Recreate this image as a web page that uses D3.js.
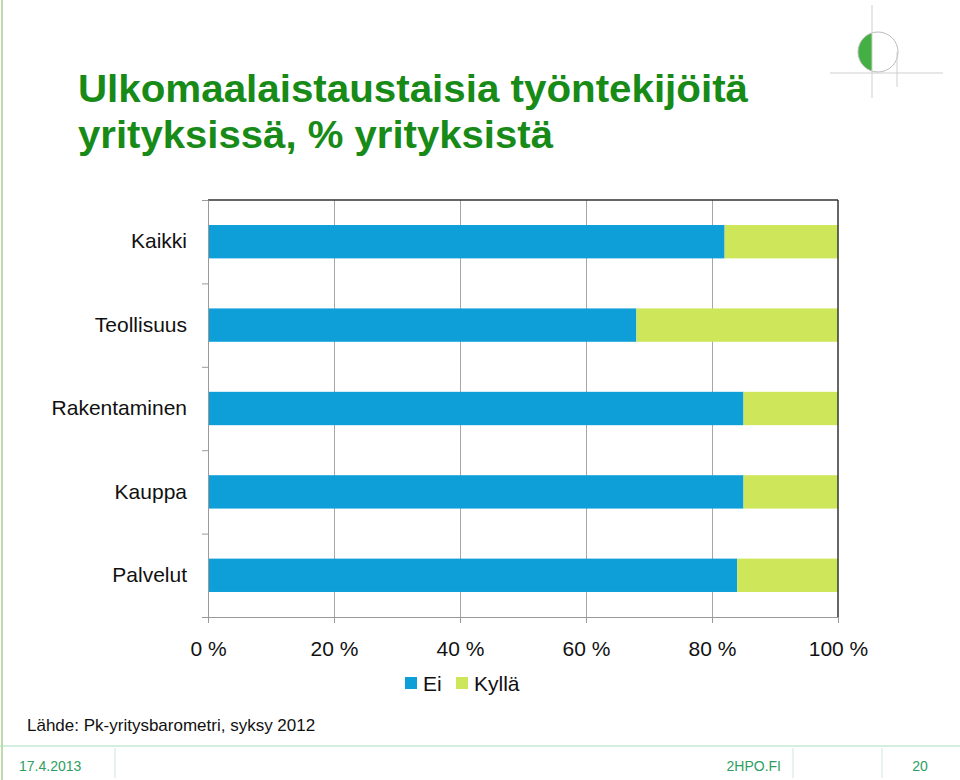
<!DOCTYPE html>
<html><head><meta charset="utf-8">
<script src="https://cdn.jsdelivr.net/npm/d3@7"></script>
<style>
html,body{margin:0;padding:0;background:#fff;}
svg{display:block;font-family:"Liberation Sans",Arial,sans-serif;}
</style></head>
<body>
<svg id="c" width="960" height="780"></svg>
<script>
const categories = ["Kaikki","Teollisuus","Rakentaminen","Kauppa","Palvelut"];
const seriesNames = ["Ei","Kyllä"];
const eiValues = [82,68,85,85,84];
const kyllaValues = [18,32,15,15,16];
const xTicks = [0,20,40,60,80,100];
const titleLines = ["Ulkomaalaistaustaisia työntekijöitä","yrityksissä, % yrityksistä"];
const sourceText = "Lähde: Pk-yritysbarometri, syksy 2012";
const footerDate = "17.4.2013", footerSite = "2HPO.FI", footerPage = "20";

const colors = {"Ei":"#0f9fd8","Kyllä":"#cde65a"};
const svg = d3.select("#c");

// frame decorations
svg.append("line").attr("x1",2).attr("x2",2).attr("y1",0).attr("y2",780).attr("stroke","#a9d18e").attr("stroke-width",1.5);

// title
const title = svg.append("g").attr("fill","#178a17").attr("font-weight","bold").attr("font-size",38);
title.append("text").attr("x",78).attr("y",102).attr("textLength",670).attr("lengthAdjust","spacingAndGlyphs").text(titleLines[0]);
title.append("text").attr("x",78).attr("y",148).attr("textLength",475).attr("lengthAdjust","spacingAndGlyphs").text(titleLines[1]);

// logo
const logo = svg.append("g");
logo.append("defs").append("clipPath").attr("id","lh").append("rect").attr("x",850).attr("y",25).attr("width",22).attr("height",60);
logo.append("circle").attr("cx",878).attr("cy",52).attr("r",20).attr("fill","#44b044").attr("clip-path","url(#lh)");
logo.append("circle").attr("cx",878).attr("cy",52).attr("r",20).attr("fill","none").attr("stroke","#bbbbbb").attr("stroke-width",1);
logo.append("line").attr("x1",872).attr("x2",872).attr("y1",5).attr("y2",98).attr("stroke","#cfcfcf");
logo.append("line").attr("x1",897).attr("x2",897).attr("y1",52).attr("y2",87).attr("stroke","#cfcfcf");
logo.append("line").attr("x1",830).attr("x2",943).attr("y1",73).attr("y2",73).attr("stroke","#cfcfcf");

// chart
const x = d3.scaleLinear().domain([0,100]).range([208,838]);
const y = d3.scaleBand().domain(categories).range([200,617]).paddingInner(0.6).paddingOuter(0.3);
const yB = d3.scaleLinear().domain([0,categories.length]).range([200,617]);

// gridlines
const grid = svg.append("g").attr("transform","translate(0,617)")
  .call(d3.axisBottom(x).tickValues([20,40,60,80]).tickSize(-417).tickFormat(""));
grid.select(".domain").remove();
grid.selectAll("line").attr("stroke","#a6a6a6");

// bars
const stacked = categories.map((c,i)=>({cat:c, ei:eiValues[i], ky:kyllaValues[i]}));
const bars = svg.append("g");
bars.selectAll(".ei").data(stacked).join("rect")
  .attr("x",x(0)).attr("y",d=>y(d.cat)).attr("width",d=>x(d.ei)-x(0)).attr("height",y.bandwidth()).attr("fill",colors["Ei"]);
bars.selectAll(".ky").data(stacked).join("rect")
  .attr("x",d=>x(d.ei)).attr("y",d=>y(d.cat)).attr("width",d=>x(d.ei+d.ky)-x(d.ei)).attr("height",y.bandwidth()).attr("fill",colors["Kyllä"]);

// top & right border
svg.append("line").attr("x1",x(0)).attr("x2",x(100)).attr("y1",200).attr("y2",200).attr("stroke","#333").attr("stroke-width",1.5);
svg.append("line").attr("x1",x(100)).attr("x2",x(100)).attr("y1",200).attr("y2",617).attr("stroke","#333").attr("stroke-width",1.5);

// left axis with boundary ticks
const la = svg.append("g").attr("transform","translate(208,0)")
  .call(d3.axisLeft(yB).ticks(5).tickValues(d3.range(0,categories.length+1)).tickSize(6).tickSizeOuter(0).tickFormat(""));
la.selectAll("line,path").attr("stroke","#9a9a9a");

// category labels
const cl = svg.append("g").attr("transform","translate(208,0)")
  .call(d3.axisLeft(y).tickSize(0).tickPadding(21));
cl.select(".domain").remove();
cl.selectAll("text").attr("font-size",21).attr("font-family","Liberation Sans, Arial, sans-serif").attr("fill","#111");

// bottom axis
const ba = svg.append("g").attr("transform","translate(0,617)")
  .call(d3.axisBottom(x).tickValues(xTicks).tickSize(6).tickSizeOuter(0).tickPadding(18).tickFormat(d=>d+" %"));
ba.selectAll("line,path").attr("stroke","#9a9a9a");
ba.selectAll("text").attr("font-size",21).attr("font-family","Liberation Sans, Arial, sans-serif").attr("fill","#111");

// legend
const lg = svg.append("g");
const legX = [405,456];
seriesNames.forEach((s,i)=>{
  lg.append("rect").attr("x",legX[i]).attr("y",677).attr("width",12).attr("height",12).attr("fill",colors[s]);
  lg.append("text").attr("x",legX[i]+18).attr("y",691).attr("font-size",21).attr("fill","#111").text(s);
});

// source
svg.append("text").attr("x",27).attr("y",731).attr("font-size",17).attr("fill","#111").text(sourceText);

// footer
const ft = svg.append("g");
ft.append("line").attr("x1",0).attr("x2",960).attr("y1",746).attr("y2",746).attr("stroke","#a8dcc0");
[115,793,882].forEach(xx=>ft.append("line").attr("x1",xx).attr("x2",xx).attr("y1",748).attr("y2",778).attr("stroke","#cfe9da"));
ft.append("text").attr("x",19).attr("y",771).attr("font-size",14).attr("fill","#2e9e62").text(footerDate);
ft.append("text").attr("x",781).attr("y",771).attr("font-size",14).attr("text-anchor","end").attr("fill","#2e9e62").text(footerSite);
ft.append("text").attr("x",920).attr("y",771).attr("font-size",14).attr("text-anchor","middle").attr("fill","#2e9e62").text(footerPage);
</script>
</body></html>
